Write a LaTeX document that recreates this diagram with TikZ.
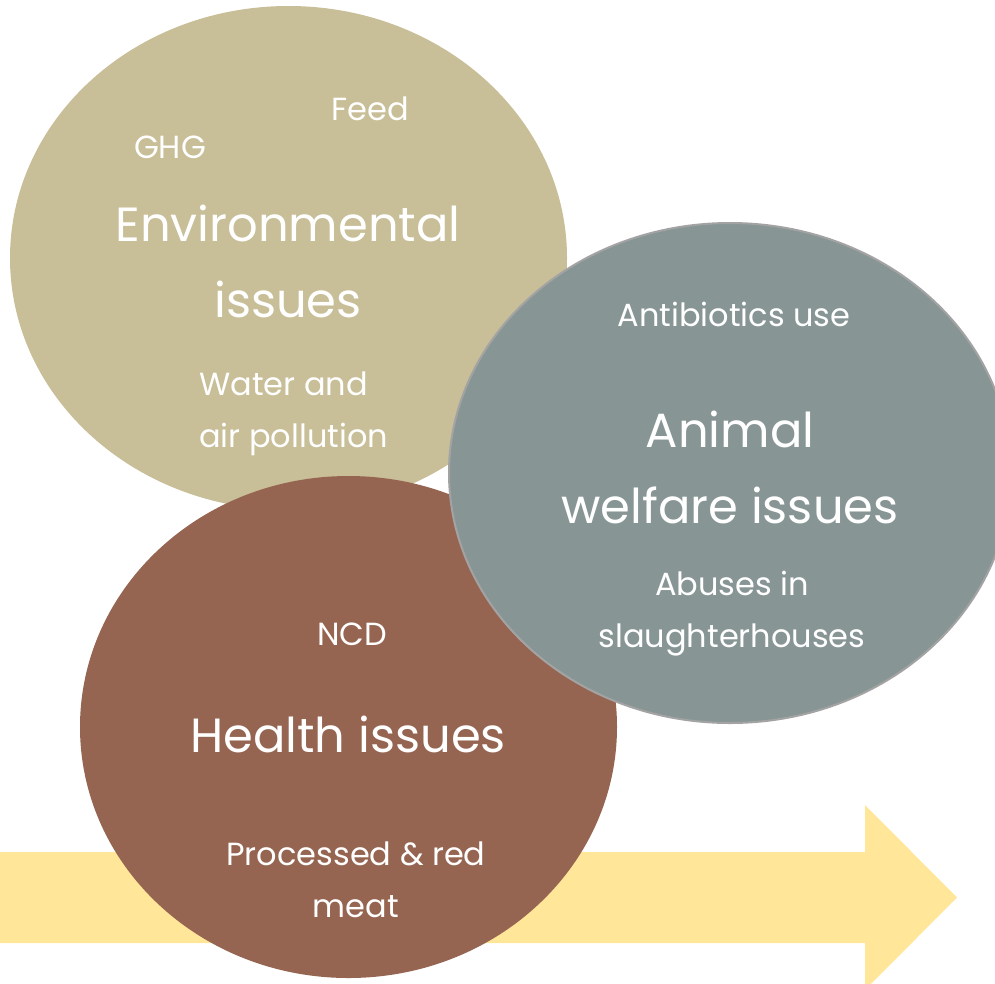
\documentclass[tikz,border=0pt]{standalone}
\usepackage{fontspec}
\setmainfont{Poppins}
\usetikzlibrary{shapes.geometric}
\definecolor{tanc}{HTML}{C8BE98}
\definecolor{brownc}{HTML}{966551}
\definecolor{grayc}{HTML}{879695}
\definecolor{graybd}{HTML}{A3A3A3}
\definecolor{yellowc}{HTML}{FFE699}
\tikzset{
  blob/.style={ellipse, inner sep=0pt, outer sep=0pt},
  small/.style={text=white, font=\fontsize{32}{52}\selectfont, inner sep=0pt, align=center, anchor=base},
  big/.style={text=white, font=\fontsize{48}{76}\selectfont, inner sep=0pt, align=center, anchor=base}
}
\begin{document}
\begin{tikzpicture}[x=1pt,y=-1pt]
\useasboundingbox (0,0) rectangle (995,983);
% arrow
\fill[yellowc] (0,852) -- (865,852) -- (865,805) -- (957,897.5) -- (865,990) -- (865,943) -- (0,943) -- cycle;
% ellipses
\node[blob, fill=tanc, minimum width=557pt, minimum height=504pt] (env) at (288.5,258) {};
\node[blob, fill=brownc, minimum width=537pt, minimum height=502pt] (health) at (348.5,727) {};
\node[blob, fill=grayc, draw=graybd, line width=2pt, minimum width=562pt, minimum height=500pt] (animal) at (730,473) {};
% texts environmental
\node[small] (feed) at (370,120) {Feed};
\node[small] (ghg) at (170,158) {GHG};
\node[big] (envt) at (288,317) {Environmental\\issues};
\node[small, align=left, anchor=base west] (water) at (199,447) {Water and\\air pollution};
% animal
\node[small] (anti) at (734,326) {Antibiotics use};
\node[big] (animt) at (730,523) {Animal\\welfare issues};
\node[small] (abuse) at (732,647) {Abuses in\\slaughterhouses};
% health
\node[small] (ncd) at (352,645) {NCD};
\node[big] (healtht) at (348,752) {Health issues};
\node[small] (meat) at (356,917) {Processed \& red\\meat};
\end{tikzpicture}
\end{document}
